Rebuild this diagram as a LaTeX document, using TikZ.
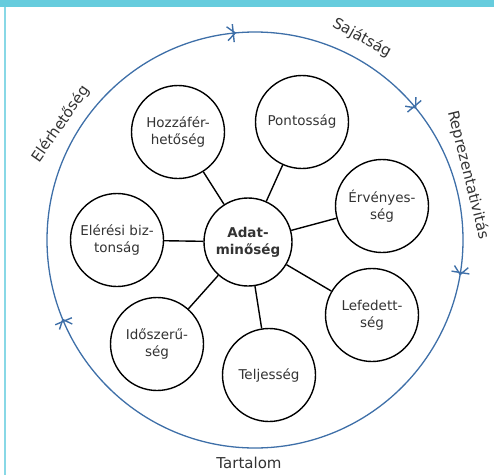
\documentclass[tikz,border=0pt]{standalone}
\usepackage{fontspec}
\setmainfont{DejaVu Sans}
\usetikzlibrary{calc}
\definecolor{ringblue}{HTML}{3E6FA8}
\definecolor{bandcyan}{HTML}{66CCDD}
\definecolor{stripcyan}{HTML}{88D8E6}
\definecolor{inktext}{HTML}{333333}

\begin{document}
\begin{tikzpicture}[x=1pt, y=1pt,
  aspect/.style={draw, circle, line width=1.4pt, minimum size=93pt, inner sep=0pt, align=center, text=inktext, font=\fontsize{13.5}{17}\selectfont},
  link/.style={line width=1.4pt},
  ringlabel/.style={text=inktext, font=\fontsize{15}{17}\selectfont}]
  \useasboundingbox (0,0) rectangle (494,475);
  \fill[bandcyan] (0,468) rectangle (494,475);
  \fill[stripcyan] (4,0) rectangle (6,468);

  \node[circle, draw=ringblue, line width=1.3pt, minimum size=416pt, inner sep=0pt] (ring) at (255,235) {};
  \foreach \a in {96,40,-9,203} {
    \begin{scope}[shift={(255,235)}, rotate=\a]
      \draw[ringblue, line width=1.4pt] (199,0) -- (217,0);
      \draw[ringblue, line width=1.4pt] (201,6) -- (208,-2) -- (215,6);
    \end{scope}
  }
  \node[ringlabel, rotate=-29] (sajat) at (362,437) {Sajátság};
  \node[ringlabel, rotate=-76] (repr) at (468,300) {Reprezentativitás};
  \node[ringlabel, rotate=55] (elerh) at (61,351) {Elérhetőség};
  \node[ringlabel] (tart) at (249,12) {Tartalom};

  \node[aspect, minimum size=88pt, font=\fontsize{13.5}{17}\selectfont\bfseries] (adat) at (248,233) {Adat-\\minőség};
  \node[aspect] (hozza) at (178,343) {Hozzáfér-\\hetőség};
  \node[aspect] (pont) at (302,353) {Pontosság};
  \node[aspect] (erveny) at (382,269) {Érvényes-\\ség};
  \node[aspect] (lefed) at (372,160) {Lefedett-\\ség};
  \node[aspect] (telj) at (269,100) {Teljesség};
  \node[aspect] (ido) at (157,131) {Időszerű-\\ség};
  \node[aspect] (eleres) at (117,235) {Elérési biz-\\tonság};

  \foreach \n in {hozza,pont,erveny,lefed,telj,ido,eleres}
    \draw[link] (adat) -- (\n);
\end{tikzpicture}
\end{document}
